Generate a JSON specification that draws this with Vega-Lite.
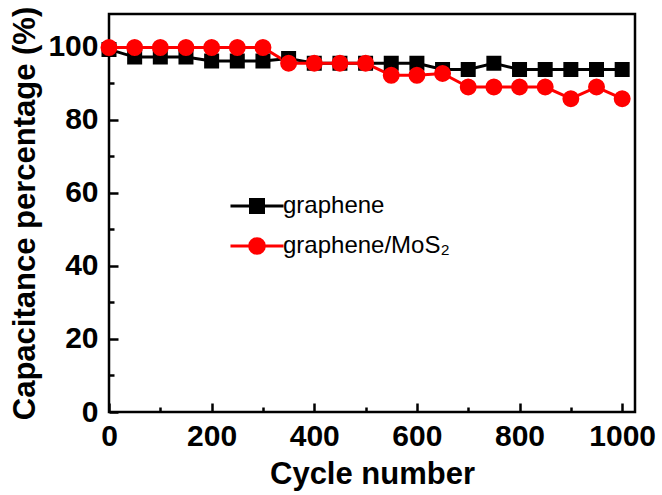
{
  "$schema": "https://vega.github.io/schema/vega-lite/v6.json",
  "width": 526,
  "height": 398,
  "autosize": {"type": "none"},
  "padding": {"left": 109, "top": 14, "right": 27, "bottom": 83},
  "background": "white",
  "config": {
    "view": {"stroke": "black", "strokeWidth": 2.5},
    "font": "Liberation Sans",
    "axis": {
      "domain": false,
      "grid": false,
      "tickColor": "black",
      "tickWidth": 2.5,
      "labelFont": "Liberation Sans",
      "labelFontWeight": "bold",
      "labelFontSize": 30,
      "labelColor": "black",
      "titleFont": "Liberation Sans",
      "titleFontWeight": "bold",
      "titleFontSize": 31,
      "titleColor": "black"
    }
  },
  "data": {
    "values": [
      {"cycle": 0, "pct": 99.3, "series": "graphene"},
      {"cycle": 50, "pct": 97.2, "series": "graphene"},
      {"cycle": 100, "pct": 97.2, "series": "graphene"},
      {"cycle": 150, "pct": 97.2, "series": "graphene"},
      {"cycle": 200, "pct": 96.1, "series": "graphene"},
      {"cycle": 250, "pct": 96.1, "series": "graphene"},
      {"cycle": 300, "pct": 96.1, "series": "graphene"},
      {"cycle": 350, "pct": 96.8, "series": "graphene"},
      {"cycle": 400, "pct": 95.5, "series": "graphene"},
      {"cycle": 450, "pct": 95.5, "series": "graphene"},
      {"cycle": 500, "pct": 95.5, "series": "graphene"},
      {"cycle": 550, "pct": 95.5, "series": "graphene"},
      {"cycle": 600, "pct": 95.5, "series": "graphene"},
      {"cycle": 650, "pct": 93.8, "series": "graphene"},
      {"cycle": 700, "pct": 93.8, "series": "graphene"},
      {"cycle": 750, "pct": 95.5, "series": "graphene"},
      {"cycle": 800, "pct": 93.8, "series": "graphene"},
      {"cycle": 850, "pct": 93.8, "series": "graphene"},
      {"cycle": 900, "pct": 93.8, "series": "graphene"},
      {"cycle": 950, "pct": 93.8, "series": "graphene"},
      {"cycle": 1000, "pct": 93.8, "series": "graphene"},
      {"cycle": 0, "pct": 99.8, "series": "graphene/MoS₂"},
      {"cycle": 50, "pct": 99.8, "series": "graphene/MoS₂"},
      {"cycle": 100, "pct": 99.8, "series": "graphene/MoS₂"},
      {"cycle": 150, "pct": 99.8, "series": "graphene/MoS₂"},
      {"cycle": 200, "pct": 99.8, "series": "graphene/MoS₂"},
      {"cycle": 250, "pct": 99.8, "series": "graphene/MoS₂"},
      {"cycle": 300, "pct": 99.8, "series": "graphene/MoS₂"},
      {"cycle": 350, "pct": 95.5, "series": "graphene/MoS₂"},
      {"cycle": 400, "pct": 95.5, "series": "graphene/MoS₂"},
      {"cycle": 450, "pct": 95.5, "series": "graphene/MoS₂"},
      {"cycle": 500, "pct": 95.5, "series": "graphene/MoS₂"},
      {"cycle": 550, "pct": 92.2, "series": "graphene/MoS₂"},
      {"cycle": 600, "pct": 92.2, "series": "graphene/MoS₂"},
      {"cycle": 650, "pct": 92.7, "series": "graphene/MoS₂"},
      {"cycle": 700, "pct": 89.0, "series": "graphene/MoS₂"},
      {"cycle": 750, "pct": 89.0, "series": "graphene/MoS₂"},
      {"cycle": 800, "pct": 89.0, "series": "graphene/MoS₂"},
      {"cycle": 850, "pct": 89.0, "series": "graphene/MoS₂"},
      {"cycle": 900, "pct": 85.8, "series": "graphene/MoS₂"},
      {"cycle": 950, "pct": 89.0, "series": "graphene/MoS₂"},
      {"cycle": 1000, "pct": 85.8, "series": "graphene/MoS₂"}
    ]
  },
  "encoding": {
    "x": {
      "field": "cycle",
      "type": "quantitative",
      "scale": {"domain": [0, 1025], "nice": false, "zero": false},
      "axis": {
        "title": "Cycle number",
        "format": "d",
        "values": [0, 100, 200, 300, 400, 500, 600, 700, 800, 900, 1000],
        "labelExpr": "datum.value % 200 === 0 ? datum.label : ''",
        "tickSize": {"condition": {"test": "datum.value % 200 === 0", "value": -9}, "value": -5},
        "labelPadding": 18,
        "labelFlush": false,
        "labelOverlap": false,
        "titlePadding": 4
      }
    },
    "y": {
      "field": "pct",
      "type": "quantitative",
      "scale": {"domain": [0, 109], "nice": false, "zero": false},
      "axis": {
        "title": "Capacitance percentage (%)",
        "values": [0, 10, 20, 30, 40, 50, 60, 70, 80, 90, 100],
        "labelExpr": "datum.value % 20 === 0 ? datum.label : ''",
        "tickSize": {"condition": {"test": "datum.value % 20 === 0", "value": -9}, "value": -5},
        "labelPadding": 20,
        "labelFlush": false,
        "labelOverlap": false,
        "titlePadding": 6
      }
    },
    "color": {
      "field": "series",
      "type": "nominal",
      "scale": {"domain": ["graphene", "graphene/MoS₂"], "range": ["black", "#ff0000"]},
      "legend": {
        "title": null,
        "orient": "none",
        "legendX": 136,
        "legendY": 180,
        "padding": 0,
        "rowPadding": 13,
        "symbolSize": 169,
        "symbolStrokeWidth": 3,
        "labelOffset": 14,
        "labelLimit": 0,
        "labelFont": "Liberation Sans",
        "labelFontSize": 24,
        "labelColor": "black",
        "encode": {
          "symbols": {
            "update": {
              "strokeWidth": {"value": 3},
              "opacity": {"value": 1}
            }
          }
        }
      }
    }
  },
  "layer": [
    {
      "mark": {"type": "line", "strokeWidth": 3},
      "encoding": {"detail": {"field": "series"}}
    },
    {
      "mark": {"type": "point", "filled": true, "opacity": 1, "size": 225, "strokeWidth": 0},
      "encoding": {
        "shape": {
          "field": "series",
          "type": "nominal",
          "scale": {
            "domain": ["graphene", "graphene/MoS₂"],
            "range": [
              "M-4.08,0H4.08M-1,-1H1V1H-1Z",
              "M-4.08,0H4.08M1.13,0L1.044,0.433L0.799,0.799L0.433,1.044L0,1.13L-0.433,1.044L-0.799,0.799L-1.044,0.433L-1.13,0L-1.044,-0.433L-0.799,-0.799L-0.433,-1.044L0,-1.13L0.433,-1.044L0.799,-0.799L1.044,-0.433Z"
            ]
          },
          "legend": null
        }
      }
    }
  ]
}
